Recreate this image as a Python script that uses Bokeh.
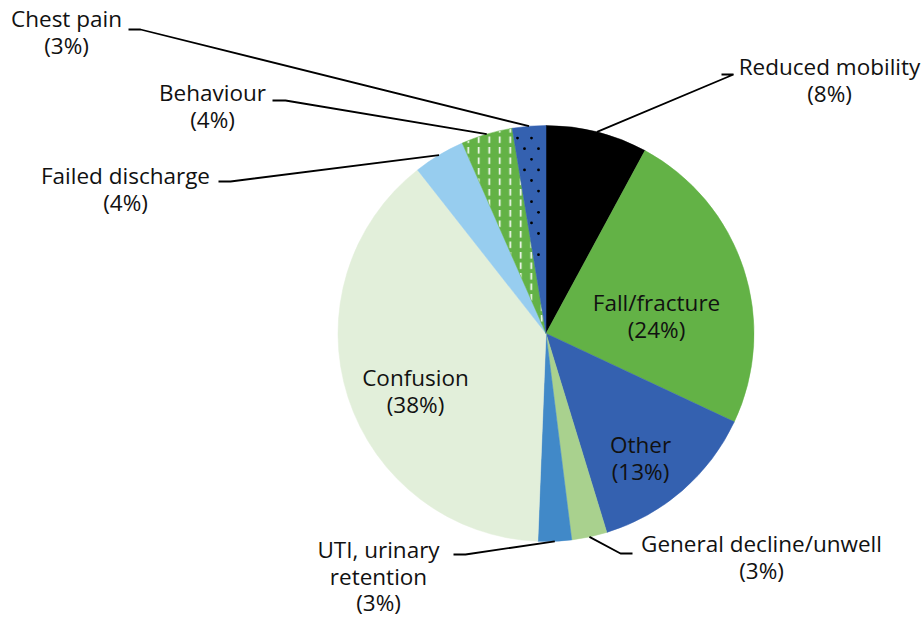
import math
from bokeh.plotting import figure
from bokeh.models import Range1d
from bokeh.core.properties import value
from bokeh.embed import file_html
from bokeh.resources import INLINE

# ---- data (clockwise from 12 o'clock) ----
categories = ["Reduced mobility", "Fall/fracture", "Other", "General decline/unwell",
              "UTI, urinary\nretention", "Confusion", "Failed discharge", "Behaviour", "Chest pain"]
shares = [7.9, 24.1, 13.3, 2.75, 2.6, 38.8, 4.0, 4.0, 2.6]
pct_labels = ["8%", "24%", "13%", "3%", "3%", "38%", "4%", "4%", "3%"]

colors = ["#000000", "#63B246", "#3461B0", "#A9D18E", "#4189C8", "#E2EFDA", "#97CDEF", "#63B246", "#3461B0"]
patterns = ["", "", "", "", "", "", "", "dash", "dots"]

W, H = 924, 617
# data coords: x = screen x, y = H - screen y
def sy(y):
    return H - y

p = figure(width=W, height=H, output_backend="svg", toolbar_location=None,
           x_range=Range1d(0, W), y_range=Range1d(0, H), min_border=0)
p.axis.visible = False
p.grid.visible = False
p.outline_line_color = None
p.background_fill_color = "white"

cx, cy, R = 545.5, sy(333), 208
total = sum(shares)
cum = 0.0
fr0, fr1, starts, ends, mids = [], [], [], [], []
for s in shares:
    a0 = cum / total
    cum += s
    a1 = cum / total
    fr0.append(a0)
    fr1.append(a1)
    starts.append(math.pi / 2 - 2 * math.pi * a0)
    ends.append(math.pi / 2 - 2 * math.pi * a1)
    mids.append(math.pi / 2 - 2 * math.pi * (a0 + a1) / 2)

for i in range(len(shares)):
    kw = {}
    if patterns[i] == "dash":
        kw = dict(hatch_pattern=":", hatch_color="white", hatch_scale=10.5, hatch_weight=1.6)
    p.wedge(x=cx, y=cy, radius=R, start_angle=starts[i], end_angle=ends[i], direction="clock",
            fill_color=colors[i], line_color=colors[i], line_width=0.5, **kw)

# dotted texture for "dots" slices: staggered lattice clipped to the slice
dx_step, dy_step = 14.0, 10.6
for i in range(len(shares)):
    if patterns[i] != "dots":
        continue
    px, py = [], []
    row = 0
    yy = sy(127)
    while yy > cy:
        off = 524.0 if row % 2 == 0 else 517.0
        xx = off - 14 * dx_step
        while xx < cx + R:
            ddx, ddy = xx - cx, yy - cy
            r = math.hypot(ddx, ddy)
            if 4 < r < R - 2.5:
                th = (math.atan2(ddx, ddy) % (2 * math.pi)) / (2 * math.pi)
                marg = 2.0 / (2 * math.pi * r)
                if fr0[i] + marg < th < fr1[i] - marg:
                    px.append(xx)
                    py.append(yy)
            xx += dx_step
        yy -= dy_step
        row += 1
    p.scatter(px, py, marker="circle", size=2.8, fill_color="black", line_color=None)

# leader lines: elbow and label anchor (screen coords); pie end computed at slice midpoint
leaders = {
    0: [(733, 74), (721, 74)],
    3: [(620, 553), (632, 553)],
    4: [(465, 554), (453, 554)],
    6: [(230, 181), (218, 181)],
    7: [(285, 100), (272, 100)],
    8: [(140, 29), (128, 29)],
}
xs, ys = [], []
for i, pts in leaders.items():
    ex = cx + R * math.cos(mids[i])
    ey = cy + R * math.sin(mids[i])
    xs.append([ex] + [q[0] for q in pts])
    ys.append([ey] + [sy(q[1]) for q in pts])
p.multi_line(xs=xs, ys=ys, line_color="black", line_width=1.8)

# label positions (screen coords of first line centre)
label_pos = {
    0: (829, 66), 1: (656, 302), 2: (640, 444), 3: (761, 543), 4: (378, 549),
    5: (415, 377), 6: (125, 175), 7: (212, 92), 8: (66, 18),
}
tx, ty, tt = [], [], []
for i, (lx, ly) in label_pos.items():
    lines = categories[i].split("\n") + ["(" + pct_labels[i] + ")"]
    for k, ln in enumerate(lines):
        tx.append(lx)
        ty.append(sy(ly + 26.5 * k))
        tt.append(ln)
p.text(x=tx, y=ty, text=tt, text_font=value("Open Sans"), text_font_size="22.5px",
       text_color="#111111", text_align="center", text_baseline="middle")

open("out.html", "w").write(file_html(p, INLINE))
